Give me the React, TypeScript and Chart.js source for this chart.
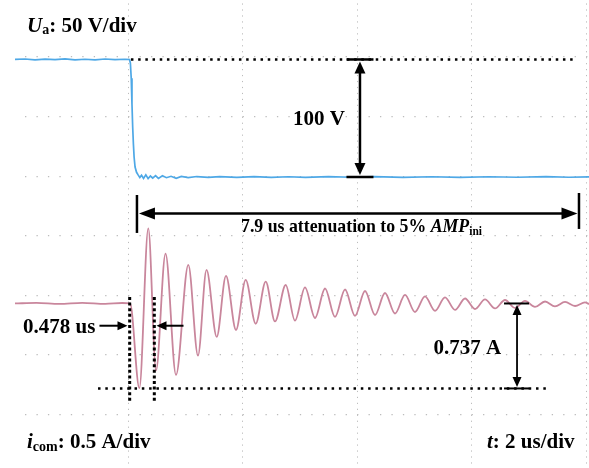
import React, { useEffect, useRef } from "react";
import { Chart, registerables } from "chart.js";

Chart.register(...registerables);

// ---------- axes (time in us, voltage in V, current in A) ----------
const T_MIN = -1.975;
const T_MAX = 8.05;
const timeGridTicks = [0, 2, 4, 6, 8]; // 2 us/div
const divGridTicks = [0, 1, 2, 3, 4, 5, 6];
const V_MIN = -247.6;
const V_MAX = 150.6;
const I_MIN = -1.427;
const I_MAX = 2.632;

// ---------- voltage trace U_a ----------
const voltTime = [
  -1.975, -1.8, -1.625, -1.45, -1.276, -1.101, -0.927, -0.752, -0.577, -0.403, -0.228, -0.054, 0.025,
  0.04, 0.055, 0.068, 0.08, 0.093, 0.105, 0.122, 0.148, 0.175, 0.205, 0.235, 0.27, 0.31, 0.35, 0.39,
  0.43, 0.48, 0.53, 0.6, 0.67, 0.75, 0.84, 0.93, 1.05, 1.2, 1.4, 1.6, 1.9, 2.2, 2.5, 2.8, 3.1, 3.5,
  3.9, 4.3, 4.8, 5.3, 5.8, 6.3, 6.8, 7.3, 7.7, 8.05,
];
const voltValue = [
  100, 100.4, 99.6, 100.3, 99.8, 100.5, 99.7, 100.2, 99.6, 100.4, 99.8, 100.2, 100,
  97, 84, 62, 43, 28, 17, 8.5, 4, 1.8, -0.5, 1.5, -1.2, 1.8, -1.4, 0.8,
  -1.0, 1.2, -1.2, 1.0, -0.6, 0.6, -1.1, 0.5, -0.6, 0.4, -0.3, 0.4, -0.3, 0.3, -0.4, 0.2, -0.3, 0.3,
  -0.2, 0.3, -0.3, 0.2, -0.3, 0.2, -0.2, 0.3, -0.2, 0.1,
];

// ---------- current trace i_com ----------
const currTime = [
  -1.975, -1.6, -1.2, -0.8, -0.4, -0.1, 0.035,
  0.197, 0.353, 0.488, 0.654, 0.837, 1.052, 1.221, 1.37, 1.548, 1.71, 1.885, 2.054, 2.229, 2.404,
  2.566, 2.753, 2.915, 3.09, 3.265, 3.44, 3.614, 3.789, 3.963, 4.138, 4.313, 4.487, 4.662, 4.837,
  5.011, 5.186, 5.361, 5.535, 5.71, 5.885, 6.059, 6.234, 6.409, 6.583, 6.758, 6.932, 7.107, 7.282,
  7.456, 7.631, 7.806, 7.98, 8.05,
];
const currValue = [
  0, 0.005, -0.004, 0.006, -0.003, 0.004, 0,
  -0.735, 0.652, -0.58, 0.433, -0.62, 0.334, -0.452, 0.291, -0.29, 0.239, -0.23, 0.204, -0.176, 0.189,
  -0.156, 0.16, -0.149, 0.139, -0.126, 0.13, -0.117, 0.121, -0.108, 0.108, -0.1, 0.091, -0.087, 0.074,
  -0.074, 0.061, -0.065, 0.052, -0.056, 0.043, -0.048, 0.035, -0.043, 0.03, -0.039, 0.022, -0.03, 0.017,
  -0.026, 0.013, -0.022, 0.009, -0.005,
];

// ---------- texts ----------
const textVoltDiv = ": 50 V/div";
const textCurrDiv = ": 0.5 A/div";
const textTimeDiv = ": 2 us/div";
const textDeltaV = "100 V";
const textDeltaI = "0.737 A";
const textDelay = "0.478 us";
const textAtten = "7.9 us attenuation to 5% ";

const FONT_FAMILY = '"Liberation Serif", "Times New Roman", serif';
const BLUE = "#4ea8e6";
const PINK = "#c9869c";
const GRID = "#bcbcbc";

type Seg = { text: string; size: number; italic?: boolean; dy?: number };

function drawRich(ctx: CanvasRenderingContext2D, x: number, y: number, segs: Seg[]) {
  let cx = x;
  for (const s of segs) {
    ctx.font = `${s.italic ? "italic " : ""}bold ${s.size}px ${FONT_FAMILY}`;
    ctx.fillText(s.text, cx, y + (s.dy || 0));
    cx += ctx.measureText(s.text).width;
  }
}

function seg(ctx: CanvasRenderingContext2D, x1: number, y1: number, x2: number, y2: number, w: number, dash: number[] = []) {
  ctx.save();
  ctx.lineWidth = w;
  ctx.setLineDash(dash);
  ctx.beginPath();
  ctx.moveTo(x1, y1);
  ctx.lineTo(x2, y2);
  ctx.stroke();
  ctx.restore();
}

function head(ctx: CanvasRenderingContext2D, tx: number, ty: number, dx: number, dy: number, len: number, half: number) {
  const bx = tx - dx * len;
  const by = ty - dy * len;
  const px = -dy;
  const py = dx;
  ctx.beginPath();
  ctx.moveTo(tx, ty);
  ctx.lineTo(bx + px * half, by + py * half);
  ctx.lineTo(bx - px * half, by - py * half);
  ctx.closePath();
  ctx.fill();
}

const annotationPlugin = {
  id: "scopeAnnotations",
  afterDatasetsDraw(chart: any) {
    const ctx: CanvasRenderingContext2D = chart.ctx;
    const sx = chart.scales.x;
    const sv = chart.scales.yV;
    const si = chart.scales.yI;
    const X = (t: number) => sx.getPixelForValue(t);
    const YV = (v: number) => sv.getPixelForValue(v);
    const YI = (a: number) => si.getPixelForValue(a);
    ctx.save();
    ctx.strokeStyle = "#000";
    ctx.fillStyle = "#000";
    ctx.lineCap = "butt";

    // top dotted level line (initial voltage)
    seg(ctx, X(0.05), YV(100), X(7.84), YV(100), 2.5, [2.5, 4.7]);

    // 100 V arrow
    {
      const xa = X(4.05);
      const y1 = YV(100);
      const y2 = YV(0);
      seg(ctx, xa - 13.5, y1, xa + 13.5, y1, 2.5);
      seg(ctx, xa - 13.5, y2, xa + 13.5, y2, 2.5);
      seg(ctx, xa, y1 + 8, xa, y2 - 8, 2.5);
      head(ctx, xa, y1 + 2, 0, -1, 12, 5.5);
      head(ctx, xa, y2 - 2, 0, 1, 12, 5.5);
    }

    // 7.9 us attenuation arrow
    {
      const xl = X(0.155);
      const xr = X(7.875);
      const ya = YV(-31);
      seg(ctx, xl, YV(-15.3), xl, YV(-47.6), 2.5);
      seg(ctx, xr, YV(-13.6), xr, YV(-44.2), 2.5);
      seg(ctx, xl + 10, ya, xr - 10, ya, 2.5);
      head(ctx, xl + 2, ya, -1, 0, 16, 6);
      head(ctx, xr - 1.5, ya, 1, 0, 16, 6);
    }

    // 0.478 us delay marks
    {
      const ya = YI(0.056);
      const yb = YI(-0.863);
      seg(ctx, X(0.028), ya, X(0.028), yb, 3, [3, 2.6]);
      seg(ctx, X(0.458), ya, X(0.458), yb, 3, [3, 2.6]);
      const yr = YI(-0.193);
      seg(ctx, X(-0.5), yr, X(-0.01) - 6, yr, 2);
      head(ctx, X(-0.01), yr, 1, 0, 10, 4.5);
      seg(ctx, X(0.968), yr, X(0.496) + 6, yr, 2);
      head(ctx, X(0.496), yr, -1, 0, 10, 4.5);
    }

    // bottom dotted level (first trough)
    seg(ctx, X(-0.525), YI(-0.737), X(7.316), YI(-0.737), 2.5, [2.5, 4.8]);

    // 0.737 A arrow
    {
      const xa = X(6.793);
      const y1 = YI(0);
      const y2 = YI(-0.737);
      seg(ctx, xa - 13, y1, xa + 12, y1, 2);
      seg(ctx, xa - 13, y2, xa + 12, y2, 2);
      seg(ctx, xa, y1 + 6, xa, y2 - 6, 1.8);
      head(ctx, xa, y1 + 1.5, 0, -1, 10, 4.5);
      head(ctx, xa, y2 - 1.5, 0, 1, 10, 4.5);
    }

    // texts
    ctx.textAlign = "left";
    ctx.textBaseline = "alphabetic";
    drawRich(ctx, 27, 32, [
      { text: "U", size: 21, italic: true },
      { text: "a", size: 14, dy: 2 },
      { text: textVoltDiv, size: 21 },
    ]);
    drawRich(ctx, 293, 125, [{ text: textDeltaV, size: 21 }]);
    drawRich(ctx, 241, 231.5, [
      { text: textAtten, size: 17.8 },
      { text: "AMP", size: 17.8, italic: true },
      { text: "ini", size: 11.5, dy: 3 },
    ]);
    drawRich(ctx, 23, 332.5, [{ text: textDelay, size: 21 }]);
    drawRich(ctx, 433.5, 354, [{ text: textDeltaI, size: 21 }]);
    drawRich(ctx, 27, 448, [
      { text: "i", size: 21, italic: true },
      { text: "com", size: 14, dy: 2.5 },
      { text: textCurrDiv, size: 21 },
    ]);
    drawRich(ctx, 487, 448, [
      { text: "t", size: 21, italic: true },
      { text: textTimeDiv, size: 21 },
    ]);
    ctx.restore();
  },
};

export default function App() {
  const ref = useRef<HTMLCanvasElement | null>(null);
  useEffect(() => {
    if (!ref.current) return;
    const chart = new Chart(ref.current, {
      type: "line",
      data: {
        datasets: [
          {
            label: "U_a",
            data: voltTime.map((t, i) => ({ x: t, y: voltValue[i] })),
            xAxisID: "x",
            yAxisID: "yV",
            borderColor: BLUE,
            borderWidth: 1.7,
            pointRadius: 0,
            tension: 0,
          },
          {
            label: "i_com",
            data: currTime.map((t, i) => ({ x: t, y: currValue[i] })),
            xAxisID: "x",
            yAxisID: "yI",
            borderColor: PINK,
            borderWidth: 1.8,
            pointRadius: 0,
            cubicInterpolationMode: "monotone",
          },
        ],
      },
      options: {
        animation: false,
        responsive: false,
        events: [],
        layout: { padding: { left: 15, right: 0, top: 0, bottom: 0 } },
        plugins: { legend: { display: false }, tooltip: { enabled: false }, title: { display: false } },
        scales: {
          x: {
            type: "linear",
            min: T_MIN,
            max: T_MAX,
            afterBuildTicks: (s: any) => {
              s.ticks = timeGridTicks.map((v) => ({ value: v }));
            },
            ticks: { display: false },
            grid: { color: GRID, lineWidth: 1, drawTicks: false },
            border: { display: false, dash: [1.2, 4.76], dashOffset: 2.5 },
          },
          g: {
            type: "linear",
            position: "left",
            reverse: true,
            min: -0.958,
            max: 6.894,
            afterBuildTicks: (s: any) => {
              s.ticks = divGridTicks.map((v) => ({ value: v }));
            },
            ticks: { display: false },
            grid: { color: GRID, lineWidth: 1.3, drawTicks: false },
            border: { display: false, dash: [1.3, 10.15], dashOffset: 1.42 },
          },
          yV: { type: "linear", display: false, min: V_MIN, max: V_MAX },
          yI: { type: "linear", display: false, min: I_MIN, max: I_MAX },
        },
      },
      plugins: [annotationPlugin],
    } as any);
    return () => chart.destroy();
  }, []);
  return (
    <div style={{ position: "fixed", left: 0, top: 0, width: 589, height: 468, background: "#fff" }}>
      <canvas ref={ref} width={589} height={468} style={{ display: "block" }} />
    </div>
  );
}
